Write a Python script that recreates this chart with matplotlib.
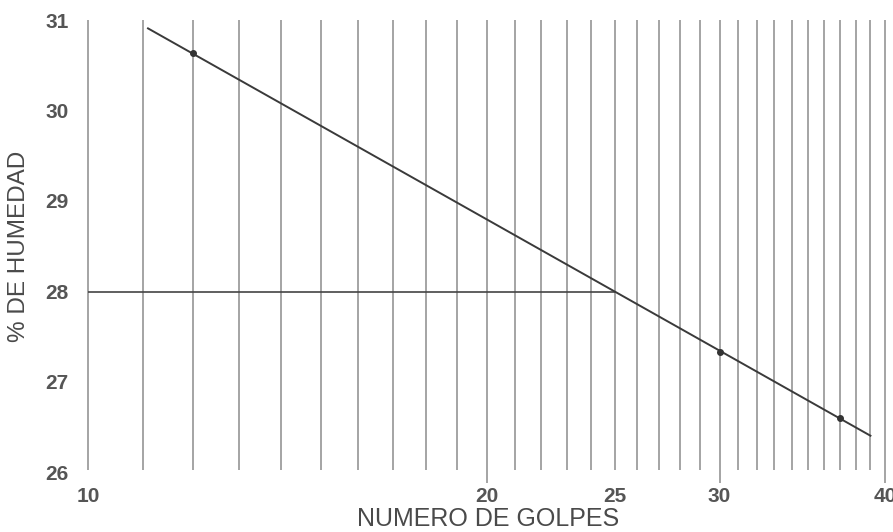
import numpy as np
import matplotlib
matplotlib.use("Agg")
import matplotlib.pyplot as plt
from matplotlib.ticker import FixedLocator, NullLocator

# Ensayo de limite liquido (Casagrande): golpes vs contenido de humedad
golpes = [12, 30, 37]
humedad = [30.63, 27.33, 26.60]

golpes_referencia = 25
xticks = [10, 20, 25, 30, 40]
yticks = [26, 27, 28, 29, 30, 31]
lineas_grilla = list(range(10, 41))
lineas_largas = [20, 30, 40]

# Recta de fluidez ajustada en escala semilogaritmica
pend, inter = np.polyfit(np.log10(golpes), humedad, 1)
recta_x = np.array([11.1, 39.0])
recta_y = pend * np.log10(recta_x) + inter
limite_liquido = pend * np.log10(golpes_referencia) + inter

plt.rcParams["font.family"] = ["Liberation Sans", "DejaVu Sans"]

fig = plt.figure(figsize=(8.93, 5.32), dpi=100)
ax = fig.add_axes([88 / 893, 1 - 472 / 532, 797 / 893, 452 / 532])
ax.set_xscale("log")
ax.set_xlim(10, 40)
ax.set_ylim(26, 31)

for s in ax.spines.values():
    s.set_visible(False)

# Lineas verticales del papel semilogaritmico
for g in lineas_grilla:
    y0 = 25.88 if g in lineas_largas else 26.02
    ax.vlines(g, y0, 31.0, colors="#8c8c8c", linewidth=1.1,
              clip_on=False, zorder=1)

# Recta de fluidez y puntos del ensayo
ax.plot(recta_x, recta_y, color="#3a3a3a", linewidth=1.4, zorder=3)
ax.plot(golpes, humedad, "o", color="#333333", markersize=4, zorder=4)

# Lectura del limite liquido a 25 golpes
ax.hlines(limite_liquido, 10, golpes_referencia, colors="#444444",
          linewidth=1.2, zorder=2)

ax.xaxis.set_major_locator(FixedLocator(xticks))
ax.xaxis.set_minor_locator(NullLocator())
ax.set_xticklabels([str(v) for v in xticks])
ax.yaxis.set_major_locator(FixedLocator(yticks))
ax.set_yticklabels([str(v) for v in yticks])

ax.tick_params(axis="both", length=0, labelsize=15, labelcolor="#555555")
ax.tick_params(axis="x", pad=10.5)
ax.tick_params(axis="y", pad=14)
for lab in ax.get_xticklabels() + ax.get_yticklabels():
    lab.set_fontweight("bold")

ax.set_xlabel("NUMERO DE GOLPES", fontsize=18, color="#4a4a4a")
ax.set_ylabel("% DE HUMEDAD", fontsize=17.5, color="#4a4a4a")
ax.xaxis.label.set_va("center")
ax.yaxis.label.set_va("center")
ax.xaxis.set_label_coords(0.502, -0.105)
ax.yaxis.set_label_coords(-0.086, 0.5)

fig.savefig("out.png", dpi=100, facecolor="white")
